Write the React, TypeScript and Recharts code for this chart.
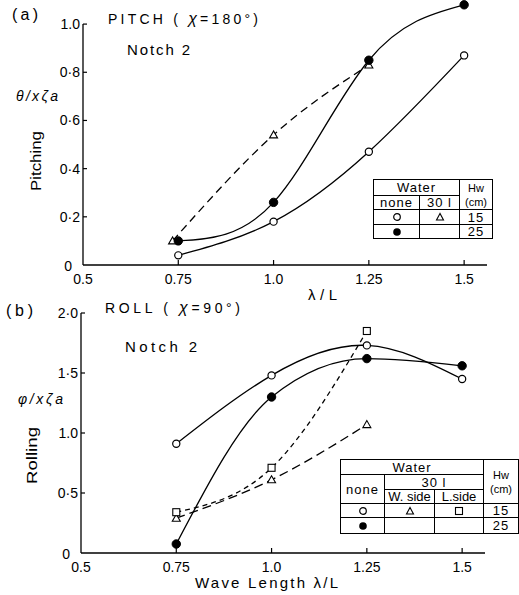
import React from "react";
import { LineChart, Line, XAxis, YAxis, ReferenceLine } from "recharts";

// ---------- data ----------
const xTicks = [0.5, 0.75, 1.0, 1.25, 1.5];
const xTickLabels = ["0.5", "0.75", "1.0", "1.25", "1.5"];

const pitchTicks = [0, 0.2, 0.4, 0.6, 0.8, 1.0];
const pitchTickLabels = ["0", "0·2", "0·4", "0·6", "0·8", "1.0"];
const rollTicks = [0, 0.5, 1.0, 1.5, 2.0];
const rollTickLabels = ["0", "0·5", "1.0", "1·5", "2·0"];

const pitchX = [0.75, 1.0, 1.25, 1.5];
const pitchNone15 = [0.04, 0.18, 0.47, 0.87];
const pitchNone25 = [0.1, 0.26, 0.85, 1.08];
const pitchX30 = [0.735, 1.0, 1.25];
const pitch30l15 = [0.1, 0.54, 0.83];

const rollX = [0.75, 1.0, 1.25, 1.5];
const rollNone15 = [0.91, 1.48, 1.73, 1.45];
const rollNone25 = [0.075, 1.3, 1.62, 1.56];
const rollX30 = [0.75, 1.0, 1.25];
const rollWside15 = [0.29, 0.61, 1.07];
const rollLside15 = [0.34, 0.71, 1.85];

const pts = (xs: number[], ys: number[]) => xs.map((x, i) => ({ x, y: ys[i] }));

const FONT = "'Liberation Sans', Arial, sans-serif";
const SW = 1.3;

// ---------- markers ----------
const OpenCircle = (p: any) =>
  p.cx == null ? null : <circle key={p.index} cx={p.cx} cy={p.cy} r={3.6} fill="#fff" stroke="#000" strokeWidth={1.2} />;
const FilledCircle = (p: any) =>
  p.cx == null ? null : <circle key={p.index} cx={p.cx} cy={p.cy} r={4.2} fill="#000" stroke="#000" />;
const OpenTriangle = (p: any) =>
  p.cx == null ? null : (
    <polygon key={p.index} points={`${p.cx},${p.cy - 4} ${p.cx - 4},${p.cy + 3} ${p.cx + 4},${p.cy + 3}`} fill="#fff" stroke="#000" strokeWidth={1.1} />
  );
const OpenSquare = (p: any) =>
  p.cx == null ? null : <rect key={p.index} x={p.cx - 3.5} y={p.cy - 3.5} width={7} height={7} fill="#fff" stroke="#000" strokeWidth={1.1} />;

// ---------- ticks ----------
const makeXTick = () => (p: any) => {
  const i = xTicks.indexOf(p.payload.value);
  return (
    <g>
      {i > 0 && <line x1={p.x} y1={p.y} x2={p.x} y2={p.y - 5} stroke="#000" strokeWidth={1.2} />}
      <text x={p.x} y={p.y + 19} textAnchor="middle" fontSize={14} fontFamily={FONT} fill="#000">
        {xTickLabels[i]}
      </text>
    </g>
  );
};
const makeYTick = (ticks: number[], labels: string[]) => (p: any) => {
  const i = ticks.indexOf(p.payload.value);
  const zero = p.payload.value === 0;
  return (
    <g>
      {!zero && <line x1={p.x} y1={p.y} x2={p.x + 4} y2={p.y} stroke="#000" strokeWidth={1.2} />}
      <text x={zero ? p.x - 11 : p.x - 3} y={zero ? p.y + 6 : p.y + 5} textAnchor="end" fontSize={14} fontFamily={FONT} fill="#000">
        {labels[i]}
      </text>
    </g>
  );
};

// ---------- legend symbols ----------
const Sym = ({ kind }: { kind: string }) => (
  <svg width={10} height={10} style={{ display: "block", margin: "0 auto" }}>
    {kind === "oc" && <circle cx={5} cy={5} r={3.3} fill="#fff" stroke="#000" strokeWidth={1.2} />}
    {kind === "fc" && <circle cx={5} cy={5} r={3.8} fill="#000" />}
    {kind === "tr" && <polygon points="5,1.5 1.5,8 8.5,8" fill="#fff" stroke="#000" strokeWidth={1.1} />}
    {kind === "sq" && <rect x={1.5} y={1.5} width={7} height={7} fill="#fff" stroke="#000" strokeWidth={1.1} />}
  </svg>
);

const cell: React.CSSProperties = {
  border: "1px solid #000",
  padding: 0,
  textAlign: "center",
  verticalAlign: "middle",
  fontSize: 13,
  lineHeight: "13px",
  letterSpacing: 1,
  fontFamily: FONT,
  overflow: "hidden",
  whiteSpace: "nowrap",
};
const hwCell: React.CSSProperties = { ...cell, fontSize: 11, lineHeight: "14px", letterSpacing: 0 };
const hwLine: React.CSSProperties = { display: "block", height: 14, lineHeight: "14px" };

export default function App() {
  const xTick = makeXTick();
  return (
    <div style={{ position: "absolute", left: 0, top: 0, width: 519, height: 595, background: "#fff", fontFamily: FONT }}>
      {/* (a) Pitch */}
      <div style={{ position: "absolute", left: 0, top: 0 }}>
        <LineChart width={519} height={300} margin={{ top: 0, right: 32, bottom: 0, left: 0 }}>
          <XAxis
            type="number"
            dataKey="x"
            domain={[0.5, 1.56]}
            ticks={xTicks}
            tick={xTick}
            tickLine={false}
            tickSize={0}
            tickMargin={0}
            height={35}
            stroke="#000"
            strokeWidth={SW}
            allowDataOverflow
          />
          <YAxis
            type="number"
            domain={[0, 1.1]}
            ticks={pitchTicks}
            tick={makeYTick(pitchTicks, pitchTickLabels)}
            tickLine={false}
            tickSize={0}
            tickMargin={0}
            axisLine={false}
            width={83}
            allowDataOverflow
          />
          <ReferenceLine segment={[{ x: 0.5, y: 0 }, { x: 0.5, y: 1.0 }]} stroke="#000" strokeWidth={SW} ifOverflow="visible" />
          <Line data={pts(pitchX30, pitch30l15)} dataKey="y" type="natural" stroke="#000" strokeWidth={SW} strokeDasharray="8 5" dot={OpenTriangle} isAnimationActive={false} />
          <Line data={pts(pitchX, pitchNone15)} dataKey="y" type="natural" stroke="#000" strokeWidth={SW} dot={OpenCircle} isAnimationActive={false} />
          <Line data={pts(pitchX, pitchNone25)} dataKey="y" type="natural" stroke="#000" strokeWidth={SW} dot={FilledCircle} isAnimationActive={false} />
        </LineChart>
      </div>

      {/* (b) Roll */}
      <div style={{ position: "absolute", left: 0, top: 300 }}>
        <LineChart width={519} height={295} margin={{ top: 13, right: 34, bottom: 0, left: 0 }}>
          <XAxis
            type="number"
            dataKey="x"
            domain={[0.5, 1.56]}
            ticks={xTicks}
            tick={xTick}
            tickLine={false}
            tickSize={0}
            tickMargin={0}
            height={42}
            stroke="#000"
            strokeWidth={SW}
            allowDataOverflow
          />
          <YAxis
            type="number"
            domain={[0, 2.0]}
            ticks={rollTicks}
            tick={makeYTick(rollTicks, rollTickLabels)}
            tickLine={false}
            tickSize={0}
            tickMargin={0}
            width={81}
            stroke="#000"
            strokeWidth={SW}
          />
          <Line data={pts(rollX30, rollWside15)} dataKey="y" type="natural" stroke="#000" strokeWidth={SW} strokeDasharray="9 5" dot={OpenTriangle} isAnimationActive={false} />
          <Line data={pts(rollX30, rollLside15)} dataKey="y" type="natural" stroke="#000" strokeWidth={SW} strokeDasharray="5 4" dot={OpenSquare} isAnimationActive={false} />
          <Line data={pts(rollX, rollNone15)} dataKey="y" type="natural" stroke="#000" strokeWidth={SW} dot={OpenCircle} isAnimationActive={false} />
          <Line data={pts(rollX, rollNone25)} dataKey="y" type="monotone" stroke="#000" strokeWidth={SW} dot={FilledCircle} isAnimationActive={false} />
        </LineChart>
      </div>

      {/* text overlay */}
      <svg width={519} height={595} style={{ position: "absolute", left: 0, top: 0, pointerEvents: "none" }} fontFamily={FONT} fill="#000">
        <text x={12} y={20} fontSize={16} textLength={26} lengthAdjust="spacing">(a)</text>
        <text x={108} y={24} fontSize={14} textLength={150} lengthAdjust="spacing">
          PITCH ( <tspan fontStyle="italic" fontSize={16}>χ</tspan>=180°)
        </text>
        <text x={127} y={55} fontSize={15} textLength={63} lengthAdjust="spacing">Notch  2</text>
        <text x={16} y={101} fontSize={14} fontStyle="italic" textLength={42} lengthAdjust="spacing">θ/xζa</text>
        <text transform="translate(41,191) rotate(-90)" fontSize={15} textLength={60} lengthAdjust="spacingAndGlyphs">Pitching</text>
        <text x={308} y={300} fontSize={15} textLength={29} lengthAdjust="spacing">λ/L</text>

        <text x={6} y={316} fontSize={16} textLength={27} lengthAdjust="spacing">(b)</text>
        <text x={105} y={313} fontSize={14} textLength={135} lengthAdjust="spacing">
          ROLL ( <tspan fontStyle="italic" fontSize={16}>χ</tspan>=90°)
        </text>
        <text x={125} y={352} fontSize={15} textLength={72} lengthAdjust="spacing">Notch  2</text>
        <text x={18} y={404} fontSize={14} fontStyle="italic" textLength={45} lengthAdjust="spacing">φ/xζa</text>
        <text transform="translate(37,484) rotate(-90)" fontSize={15} textLength={57} lengthAdjust="spacingAndGlyphs">Rolling</text>
        <text x={195} y={588} fontSize={15} textLength={143} lengthAdjust="spacing">Wave Length  λ/L</text>
      </svg>

      {/* legend (a) */}
      <table style={{ position: "absolute", left: 373, top: 179, borderCollapse: "collapse", tableLayout: "fixed", width: 119, background: "#fff" }}>
        <colgroup>
          <col style={{ width: 46 }} />
          <col style={{ width: 40 }} />
          <col style={{ width: 33 }} />
        </colgroup>
        <tbody>
          <tr style={{ height: 16 }}>
            <td style={cell} colSpan={2}>Water</td>
            <td style={hwCell} rowSpan={2}>
              <span style={hwLine}>Hw</span>
              <span style={hwLine}>(cm)</span>
            </td>
          </tr>
          <tr style={{ height: 14 }}>
            <td style={cell}>none</td>
            <td style={cell}>30 l</td>
          </tr>
          <tr style={{ height: 15 }}>
            <td style={cell}><Sym kind="oc" /></td>
            <td style={cell}><Sym kind="tr" /></td>
            <td style={cell}>15</td>
          </tr>
          <tr style={{ height: 14 }}>
            <td style={cell}><Sym kind="fc" /></td>
            <td style={cell}></td>
            <td style={cell}>25</td>
          </tr>
        </tbody>
      </table>

      {/* legend (b) */}
      <table style={{ position: "absolute", left: 340, top: 459, borderCollapse: "collapse", tableLayout: "fixed", width: 178, background: "#fff" }}>
        <colgroup>
          <col style={{ width: 44 }} />
          <col style={{ width: 50 }} />
          <col style={{ width: 49 }} />
          <col style={{ width: 35 }} />
        </colgroup>
        <tbody>
          <tr style={{ height: 15 }}>
            <td style={cell} colSpan={3}>Water</td>
            <td style={hwCell} rowSpan={3}>
              <span style={hwLine}>Hw</span>
              <span style={hwLine}>(cm)</span>
            </td>
          </tr>
          <tr style={{ height: 15 }}>
            <td style={cell} rowSpan={2}>none</td>
            <td style={cell} colSpan={2}>30  l</td>
          </tr>
          <tr style={{ height: 14 }}>
            <td style={{ ...cell, letterSpacing: 0 }}>W. side</td>
            <td style={{ ...cell, letterSpacing: 0 }}>L.side</td>
          </tr>
          <tr style={{ height: 14 }}>
            <td style={cell}><Sym kind="oc" /></td>
            <td style={cell}><Sym kind="tr" /></td>
            <td style={cell}><Sym kind="sq" /></td>
            <td style={cell}>15</td>
          </tr>
          <tr style={{ height: 16 }}>
            <td style={cell}><Sym kind="fc" /></td>
            <td style={cell}></td>
            <td style={cell}></td>
            <td style={cell}>25</td>
          </tr>
        </tbody>
      </table>
    </div>
  );
}
